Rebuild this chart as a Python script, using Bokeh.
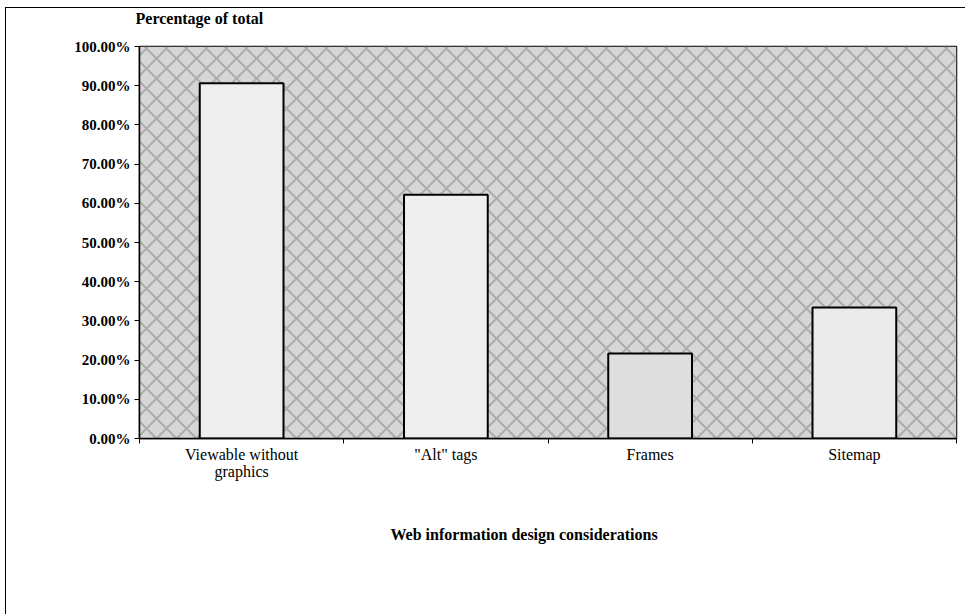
import numpy as np
from bokeh.plotting import figure
from bokeh.models import (FixedTicker, PrintfTickFormatter, BoxAnnotation, Title, Range1d)
from bokeh.embed import file_html
from bokeh.resources import INLINE

categories = ["Viewable without\ngraphics", "\"Alt\" tags", "Frames", "Sitemap"]
values = [90.6, 62.2, 21.7, 33.4]
bar_fills = ["#efefef", "#efefef", "#dedede", "#ebebeb"]
y_ticks = list(range(0, 101, 10))

n = len(categories)
xc = list(np.arange(n) + 0.5)

FONT = "Liberation Serif"

p = figure(width=960, height=607, output_backend="svg", toolbar_location=None,
           x_range=Range1d(0, n), y_range=Range1d(0, 100),
           min_border_left=133, min_border_right=10, min_border_top=38, min_border_bottom=177)
p.margin = (7, 0, 0, 5)
p.styles = {"border-left": "1px solid black", "border-top": "1px solid black"}

p.background_fill_color = "#d6d6d6"
p.border_fill_color = "white"
p.outline_line_color = "black"
p.outline_line_width = 1.5

bg = BoxAnnotation(fill_color="#d6d6d6", fill_alpha=1.0, line_alpha=0,
                   hatch_pattern="x", hatch_color="#9a9a9a", hatch_scale=20,
                   hatch_weight=2, hatch_alpha=0.7, level="underlay")
p.add_layout(bg)

p.vbar(x=xc, top=values, width=0.41, bottom=0, fill_color=bar_fills,
       line_color="black", line_width=2)

p.xgrid.visible = False
p.ygrid.visible = False

# y axis
p.yaxis.ticker = FixedTicker(ticks=y_ticks, minor_ticks=[])
p.yaxis.formatter = PrintfTickFormatter(format="%.2f%%")
p.yaxis.major_label_text_font = FONT
p.yaxis.major_label_text_font_style = "bold"
p.yaxis.major_label_text_font_size = "15px"
p.yaxis.major_label_text_color = "black"
p.yaxis.major_tick_out = 5
p.yaxis.major_tick_in = 0
p.yaxis.axis_line_width = 1.5
p.yaxis.major_label_standoff = 4

# x axis
p.xaxis.ticker = FixedTicker(ticks=xc, minor_ticks=list(range(n + 1)))
p.xaxis.major_label_overrides = {x: c for x, c in zip(xc, categories)}
p.xaxis.major_label_text_font = FONT
p.xaxis.major_label_text_font_size = "16px"
p.xaxis.major_label_text_line_height = 1.05
p.xaxis.major_label_text_color = "black"
p.xaxis.major_tick_out = 0
p.xaxis.major_tick_in = 0
p.xaxis.minor_tick_out = 5
p.xaxis.minor_tick_in = 0
p.xaxis.minor_tick_line_color = "black"
p.xaxis.axis_line_width = 1.5
p.xaxis.major_label_standoff = 2

# spacer between frame and the y-axis heading
spacer = Title(text=" ", text_font_size="1px", standoff=14)
p.add_layout(spacer, "above")

top_title = Title(text="Percentage of total", align="left", offset=-4,
                  vertical_align="top",
                  text_font=FONT, text_font_style="bold", text_font_size="16px",
                  text_color="black", standoff=2)
p.add_layout(top_title, "above")

x_title = Title(text="Web information design considerations", align="left", offset=251,
                vertical_align="top",
                text_font=FONT, text_font_style="bold", text_font_size="16px",
                text_color="black", standoff=84)
p.add_layout(x_title, "below")

open("out.html", "w").write(file_html(p, INLINE))
